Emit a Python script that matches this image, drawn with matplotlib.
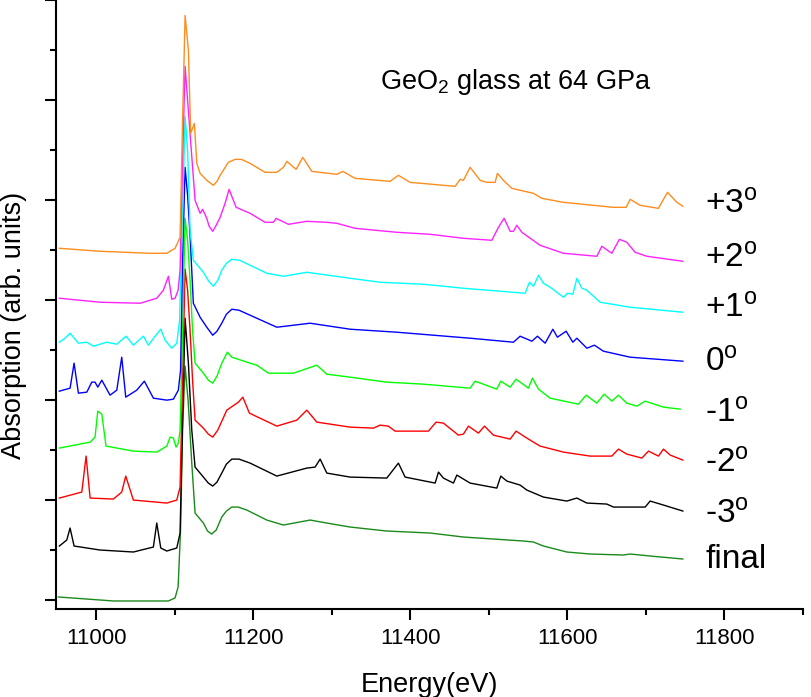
import matplotlib
matplotlib.use("Agg")
import matplotlib.pyplot as plt
from matplotlib.ticker import MultipleLocator, NullFormatter

plt.rcParams['font.family'] = ['Liberation Sans', 'DejaVu Sans']
plt.rcParams['mathtext.fontset'] = 'custom'
plt.rcParams['mathtext.rm'] = 'Liberation Sans'
plt.rcParams['mathtext.it'] = 'Liberation Sans:italic'
plt.rcParams['mathtext.bf'] = 'Liberation Sans:bold'

# ---------------- data (energy in eV, absorption with stacking offset) ----------------
e_final = [10952, 11022, 11092, 11100.6, 11104.5, 11107.6, 11110.2, 11113.4, 11117.2, 11121.9,
           11126.1, 11136.7, 11142.0, 11147.3, 11153.0, 11160.1, 11166.0, 11172.9, 11181.0, 11192.0,
           11217.5, 11238.6, 11272.6, 11293.9,
           11323.6, 11370.3, 11425.5, 11467.9, 11544.3, 11557.1, 11569.8, 11599.6, 11629.3, 11671.7,
           11680.3, 11705.7, 11747.4]
a_final = [0.03, -0.01, -0.01, 0.02, 0.13, 0.70, 1.70, 2.34, 2.00, 1.37,
           0.87, 0.77, 0.69, 0.66, 0.70, 0.83, 0.89, 0.93, 0.93, 0.90,
           0.80, 0.75, 0.80, 0.77,
           0.73, 0.69, 0.67, 0.63, 0.59, 0.58, 0.54, 0.48, 0.46, 0.45,
           0.46, 0.44, 0.41]

e_m3 = [10953.2, 10962.7, 10966.9, 10972.0, 11005.1, 11047.5, 11073.0, 11077.3, 11082.4, 11090.1,
        11102.8, 11107.0, 11110.2, 11113.4, 11117.6, 11121.9, 11126.1, 11136.7, 11143.0, 11148.6,
        11154.0, 11160.1, 11166.0, 11172.9, 11182.0, 11196.2, 11230.2, 11268.4, 11279.0, 11285.4,
        11293.9, 11323.6, 11370.3, 11385.1,
        11393.6, 11431.9, 11436.1, 11442.4, 11455.2, 11459.5, 11476.4, 11510.4, 11515.5, 11523.2,
        11540.1, 11548.7, 11569.8, 11599.6, 11612.4, 11625.1, 11650.5, 11659.0, 11699.4, 11705.7,
        11722.7, 11747.4]
a_m3 = [0.54, 0.60, 0.72, 0.54, 0.50, 0.48, 0.53, 0.77, 0.52, 0.49,
        0.52, 0.67, 1.80, 2.82, 2.37, 1.70, 1.33, 1.23, 1.17, 1.14,
        1.18, 1.27, 1.36, 1.41, 1.41, 1.37, 1.24, 1.32, 1.33, 1.41,
        1.27, 1.23, 1.22, 1.37,
        1.23, 1.17, 1.28, 1.22, 1.17, 1.25, 1.17, 1.12, 1.24, 1.19,
        1.15, 1.10, 1.03, 0.99, 1.02, 0.97, 0.96, 0.93, 0.93, 0.99,
        0.95, 0.89]

e_m2 = [10953.2, 10981.8, 10987.3, 10992.4, 11022.0, 11032.7, 11037.8, 11047.5, 11090.1, 11102.8,
        11107.0, 11110.2, 11113.4, 11116.6, 11119.7, 11122.9, 11126.1, 11136.7, 11143.0, 11148.6,
        11155.0, 11166.5,
        11181.3, 11186.9, 11195.3, 11230.2, 11255.7, 11268.4, 11281.2, 11323.6, 11353.3, 11361.8,
        11372.3, 11380.9, 11423.3, 11433.1, 11442.4, 11461.5, 11467.9, 11474.3, 11487.0, 11494.7,
        11506.1, 11527.4, 11535.0, 11548.7, 11565.6, 11595.3, 11629.3, 11656.9, 11665.3, 11676.0,
        11695.2, 11703.6, 11716.3, 11722.7, 11731.3, 11747.4]
a_m2 = [1.02, 1.08, 1.44, 1.02, 1.01, 1.08, 1.24, 1.00, 0.97, 1.00,
        1.13, 2.20, 3.31, 3.10, 2.70, 2.20, 1.80, 1.72, 1.66, 1.63,
        1.70, 1.90,
        1.98, 2.03, 1.87, 1.74, 1.80, 1.90, 1.78, 1.73, 1.72, 1.75,
        1.74, 1.69, 1.69, 1.78, 1.77, 1.65, 1.66, 1.74, 1.67, 1.74,
        1.65, 1.61, 1.69, 1.62, 1.54, 1.48, 1.44, 1.44, 1.51, 1.46,
        1.42, 1.49, 1.44, 1.51, 1.45, 1.40]

e_m1 = [10953.2, 10992.4, 10998.7, 11002.2, 11007.3, 11012.7, 11047.5, 11077.3, 11090.1, 11094.3,
        11098.5, 11101.9, 11104.8, 11107.0, 11110.2, 11113.4, 11116.6, 11119.7, 11122.9, 11126.1,
        11136.7, 11143.0, 11148.6, 11154.0, 11160.1, 11167.3, 11172.9, 11196.2, 11204.7, 11219.5,
        11251.4, 11281.2,
        11293.9, 11323.6, 11370.3, 11417.0, 11476.4, 11482.8, 11510.4, 11515.5, 11527.4, 11535.0,
        11550.7, 11555.8, 11563.5, 11578.3, 11614.4, 11624.2, 11637.8, 11647.1, 11656.9, 11665.3,
        11676.0, 11688.8, 11699.4, 11722.7, 11744.0]
a_m1 = [1.52, 1.58, 1.63, 1.89, 1.86, 1.54, 1.49, 1.48, 1.54, 1.63,
        1.62, 1.53, 1.57, 1.70, 2.70, 3.82, 3.60, 3.20, 2.70, 2.37,
        2.27, 2.20, 2.17, 2.24, 2.37, 2.48, 2.43, 2.37, 2.35, 2.27,
        2.27, 2.35,
        2.26, 2.23, 2.18, 2.16, 2.12, 2.19, 2.11, 2.19, 2.13, 2.21,
        2.12, 2.22, 2.11, 2.02, 1.96, 2.05, 1.97, 2.06, 1.99, 2.05,
        1.97, 1.94, 1.99, 1.93, 1.91]

e_0 = [10953.2, 10966.9, 10972.0, 10977.5, 10988.2, 10994.5, 10998.7, 11002.2, 11007.3, 11017.8,
       11026.4, 11032.7, 11037.8, 11051.8, 11061.5, 11073.0, 11090.1, 11098.5, 11104.8, 11107.6,
       11110.2, 11113.4, 11116.6, 11119.7, 11123.9, 11132.5, 11141.0, 11148.6, 11154.0, 11160.1,
       11166.0, 11172.9, 11182.0,
       11196.2, 11230.2, 11272.6, 11323.6, 11383.1, 11476.4, 11531.6, 11540.1, 11555.1, 11562.2,
       11572.0, 11581.8, 11587.6, 11598.7, 11607.3, 11612.4, 11625.1, 11634.8, 11646.2, 11680.3,
       11747.4]
a_0 = [2.09, 2.12, 2.37, 2.07, 2.08, 2.18, 2.18, 2.13, 2.20, 2.05,
       2.10, 2.43, 2.03, 2.10, 2.19, 2.02, 2.00, 2.01, 2.10, 2.30,
       3.40, 4.33, 4.05, 3.65, 2.97, 2.83, 2.73, 2.65, 2.69, 2.77,
       2.86, 2.91, 2.90,
       2.85, 2.73, 2.77, 2.71, 2.68, 2.62, 2.58, 2.64, 2.59, 2.64,
       2.57, 2.71, 2.63, 2.69, 2.58, 2.62, 2.52, 2.55, 2.49, 2.43,
       2.39]

e_p1 = [10953.2, 10960.5, 10966.9, 10977.5, 10988.2, 10996.6, 11013.6, 11026.4, 11038.2, 11047.5,
        11060.3, 11066.6, 11075.2, 11082.4, 11087.9, 11096.4, 11102.8, 11106.4, 11110.2, 11113.4,
        11116.6, 11119.7, 11123.9, 11136.7, 11143.5, 11149.4, 11155.0, 11160.1, 11166.0, 11172.9,
        11183.0, 11196.2, 11217.5, 11238.6,
        11268.4, 11323.6, 11361.8, 11417.0, 11467.9, 11546.5, 11552.0, 11557.1, 11563.5, 11569.8,
        11578.3, 11595.3, 11600.4, 11607.3, 11612.4, 11618.7, 11625.1, 11642.0, 11680.3, 11747.4]
a_p1 = [2.58, 2.62, 2.67, 2.57, 2.58, 2.54, 2.58, 2.56, 2.64, 2.55,
        2.64, 2.55, 2.64, 2.71, 2.60, 2.52, 2.57, 2.80, 3.90, 4.84,
        4.50, 3.70, 3.40, 3.28, 3.19, 3.14, 3.20, 3.30, 3.37, 3.41,
        3.40, 3.35, 3.27, 3.24,
        3.28, 3.22, 3.18, 3.16, 3.12, 3.07, 3.18, 3.14, 3.25, 3.17,
        3.13, 3.03, 3.07, 3.06, 3.22, 3.12, 3.10, 2.98, 2.93, 2.88]

e_p2 = [10953.2, 11005.1, 11056.1, 11077.3, 11085.7, 11092.1, 11096.4, 11100.6, 11104.5, 11107.0,
        11110.2, 11113.4, 11116.6, 11119.7, 11126.1, 11132.5, 11135.8, 11141.0, 11144.0, 11148.6,
        11153.0, 11158.0,
        11164.3, 11169.4, 11178.4, 11196.2, 11215.3, 11225.9, 11229.3, 11245.0, 11268.4, 11293.9,
        11306.6, 11329.9, 11383.1, 11425.5, 11467.9, 11504.1, 11512.5, 11519.7, 11527.4, 11531.6,
        11535.9, 11542.3, 11565.6, 11595.3, 11637.8, 11644.2, 11656.9, 11666.6, 11676.0, 11686.6,
        11701.5, 11747.4]
a_p2 = [3.02, 2.98, 2.97, 3.02, 3.10, 3.24, 3.01, 3.02, 3.10, 3.30,
        4.40, 5.34, 5.00, 4.67, 4.00, 3.87, 3.91, 3.82, 3.74, 3.69,
        3.75, 3.83,
        3.97, 4.11, 3.93, 3.87, 3.78, 3.78, 3.82, 3.76, 3.79, 3.78,
        3.77, 3.72, 3.68, 3.66, 3.62, 3.60, 3.73, 3.82, 3.69, 3.69,
        3.75, 3.68, 3.55, 3.47, 3.44, 3.54, 3.47, 3.61, 3.58, 3.48,
        3.44, 3.39]

e_p3 = [10953.2, 11005.1, 11068.8, 11090.1, 11100.6, 11107.0, 11110.2, 11113.4, 11117.6, 11120.5,
        11125.2, 11128.3, 11132.5, 11141.0, 11144.5, 11149.4, 11154.0, 11158.0, 11168.5, 11177.1,
        11185.0, 11196.2, 11215.3,
        11230.2, 11238.6, 11243.0, 11254.8, 11263.3, 11274.8, 11306.6, 11314.3, 11329.9, 11374.5,
        11385.1, 11400.0, 11457.3, 11463.7, 11467.9, 11476.4, 11489.2, 11497.7, 11508.3, 11511.2,
        11518.8, 11529.5, 11557.1, 11567.8, 11595.3, 11659.0, 11675.2, 11680.3, 11693.0, 11716.3,
        11727.8, 11739.8, 11747.4]
a_p3 = [3.52, 3.49, 3.47, 3.47, 3.52, 3.63, 4.80, 5.85, 5.50, 4.67,
        4.77, 4.37, 4.27, 4.20, 4.18, 4.15, 4.19, 4.25, 4.38, 4.41,
        4.41, 4.37, 4.28,
        4.28, 4.33, 4.39, 4.31, 4.43, 4.29, 4.26, 4.29, 4.22, 4.19,
        4.25, 4.18, 4.14, 4.21, 4.20, 4.33, 4.20, 4.18, 4.18, 4.27,
        4.20, 4.12, 4.07, 4.02, 3.98, 3.93, 3.93, 4.01, 3.95, 3.92,
        4.08, 3.98, 3.94]

series_labels = ['+3$^{\\mathrm{o}}$', '+2$^{\\mathrm{o}}$', '+1$^{\\mathrm{o}}$', '0$^{\\mathrm{o}}$',
                 '-1$^{\\mathrm{o}}$', '-2$^{\\mathrm{o}}$', '-3$^{\\mathrm{o}}$', 'final']
label_levels = [3.87, 3.33, 2.83, 2.29, 1.78, 1.27, 0.76, 0.32]
label_energy = 11776

colors = ['#FF8C1E', '#FF22FF', '#00FFFF', '#0000FF', '#00FF00', '#FF0000', '#000000', '#1A8A1A']
energies = [e_p3, e_p2, e_p1, e_0, e_m1, e_m2, e_m3, e_final]
absorb = [a_p3, a_p2, a_p1, a_0, a_m1, a_m2, a_m3, a_final]

# ---------------- figure ----------------
fig = plt.figure(figsize=(8.12, 6.97), dpi=100)
ax = fig.add_axes([0.0690, 0.1263, 0.9200, 0.8737])

for e, a, c in zip(energies[::-1], absorb[::-1], colors[::-1]):
    ax.plot(e, a, color=c, lw=1.0)

for lab, lev in zip(series_labels, label_levels):
    ax.text(label_energy, lev, lab, fontsize=24, va='baseline', ha='left', color='black')

ax.set_xlim(10949, 11900.5)
ax.set_ylim(-0.09, 6.005)
ax.xaxis.set_major_locator(MultipleLocator(200))
ax.xaxis.set_minor_locator(MultipleLocator(100))
ax.yaxis.set_major_locator(MultipleLocator(1))
ax.yaxis.set_minor_locator(MultipleLocator(0.5))
ax.yaxis.set_major_formatter(NullFormatter())

for s in ['top', 'right']:
    ax.spines[s].set_visible(False)
for s in ['left', 'bottom']:
    ax.spines[s].set_linewidth(1.5)

ax.tick_params(which='major', direction='out', length=8, width=1.5, labelsize=16, pad=6)
ax.tick_params(which='minor', direction='out', length=4, width=1.5)

ax.set_xlabel('Energy(eV)', fontsize=19.5)
ax.xaxis.label.set_va('baseline')
ax.xaxis.set_label_coords(0.5, -0.136)
ax.set_ylabel('Absorption (arb. units)', fontsize=19.5)
ax.yaxis.label.set_va('baseline')
ax.yaxis.set_label_coords(-0.047, 0.466)

fig.text(380 / 812, 1 - 89 / 697, 'GeO$_2$ glass at 64 GPa', fontsize=19.5,
         ha='left', va='baseline')

fig.savefig('out.png', dpi=100)
